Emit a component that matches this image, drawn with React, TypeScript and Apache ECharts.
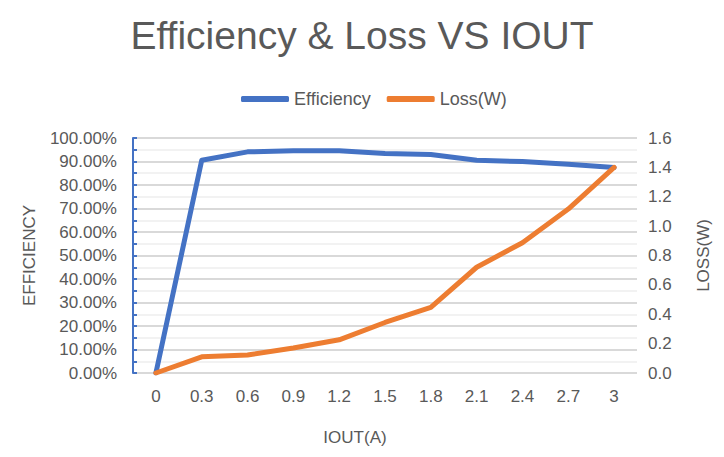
import React, { useEffect, useRef } from "react";
import * as echarts from "echarts";

const categories = ["0", "0.3", "0.6", "0.9", "1.2", "1.5", "1.8", "2.1", "2.4", "2.7", "3"];
const efficiency = [0, 0.905, 0.941, 0.946, 0.946, 0.934, 0.930, 0.905, 0.900, 0.888, 0.874];
const loss = [0, 0.11, 0.122, 0.17, 0.226, 0.344, 0.446, 0.72, 0.887, 1.116, 1.40];

const GRAY = "#595959";
const FONT = "'Liberation Sans', Arial, sans-serif";

export default function App() {
  const ref = useRef<HTMLDivElement>(null);
  useEffect(() => {
    if (!ref.current) return;
    const chart = echarts.init(ref.current, undefined, { renderer: "svg" });
    chart.setOption({
      animation: false,
      backgroundColor: "#ffffff",
      title: {
        text: "Efficiency & Loss VS IOUT",
        left: "center",
        top: 11,
        textStyle: { color: GRAY, fontSize: 39, fontWeight: 300, fontFamily: FONT },
      },
      legend: {
        top: 85,
        left: 236,
        itemWidth: 48,
        itemHeight: 6,
        itemGap: 16,
        icon: "roundRect",
        textStyle: { color: GRAY, fontSize: 18, fontFamily: FONT },
        data: ["Efficiency", "Loss(W)"],
      },
      grid: { left: 133, right: 87, top: 138, bottom: 84, containLabel: false },
      xAxis: {
        type: "category",
        data: categories,
        boundaryGap: true,
        name: "IOUT(A)",
        nameLocation: "middle",
        nameGap: 56,
        nameTextStyle: { color: GRAY, fontSize: 17, fontFamily: FONT, padding: [0, 60, 0, 0] },
        axisLine: { show: false },
        axisTick: { show: false },
        axisLabel: { color: GRAY, fontSize: 17, fontFamily: FONT, margin: 15 },
      },
      yAxis: [
        {
          type: "value",
          min: 0,
          max: 1,
          interval: 0.1,
          name: "EFFICIENCY",
          nameLocation: "middle",
          nameRotate: 90,
          nameGap: 95,
          nameTextStyle: { color: GRAY, fontSize: 17, fontFamily: FONT },
          axisLine: { show: true, lineStyle: { color: "#4472C4", width: 2 } },
          axisTick: { show: true, inside: true, length: 4, lineStyle: { color: "#4472C4", width: 2 } },
          minorTick: { show: true, splitNumber: 2, length: 4, lineStyle: { color: "#4472C4", width: 2 } },
          axisLabel: {
            color: GRAY,
            fontSize: 17,
            fontFamily: FONT,
            margin: 16,
            formatter: (v: number) => (v * 100).toFixed(2) + "%",
          },
          splitLine: { show: true, lineStyle: { color: "#D9D9D9", width: 2 } },
          minorSplitLine: { show: true, lineStyle: { color: "#F2F2F2", width: 2 } },
        },
        {
          type: "value",
          min: 0,
          max: 1.6,
          interval: 0.2,
          name: "LOSS(W)",
          nameLocation: "middle",
          nameRotate: 90,
          nameGap: 58,
          nameTextStyle: { color: GRAY, fontSize: 17, fontFamily: FONT },
          axisLine: { show: false },
          axisTick: { show: false },
          axisLabel: {
            color: GRAY,
            fontSize: 17,
            fontFamily: FONT,
            margin: 11,
            formatter: (v: number) => v.toFixed(1),
          },
          splitLine: { show: false },
        },
      ],
      series: [
        {
          name: "Efficiency",
          type: "line",
          yAxisIndex: 0,
          data: efficiency,
          symbol: "none",
          color: "#4472C4",
          lineStyle: { width: 5, color: "#4472C4", cap: "round", join: "round" },
        },
        {
          name: "Loss(W)",
          type: "line",
          yAxisIndex: 1,
          data: loss,
          symbol: "none",
          color: "#ED7D31",
          lineStyle: { width: 5, color: "#ED7D31", cap: "round", join: "round" },
        },
      ],
    });
    return () => chart.dispose();
  }, []);
  return (
    <div
      ref={ref}
      style={{ position: "fixed", left: 0, top: 0, width: 724, height: 457, background: "#fff" }}
    />
  );
}
